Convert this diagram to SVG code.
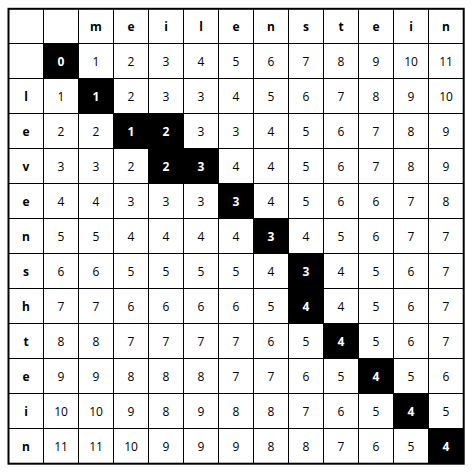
<svg xmlns="http://www.w3.org/2000/svg" width="472" height="473" viewBox="0 0 472 473">
<style>
.t{font-family:"Open Sans","Liberation Sans",sans-serif;font-size:12px;text-anchor:middle;fill:#000}
.b{font-weight:bold}
.w{fill:#fff;font-weight:bold}
.g{stroke:#000;stroke-width:1;fill:none}
</style>
<rect x="0" y="0" width="472" height="473" fill="#fff"/>
<g id="black-cells" fill="#000">
<rect x="43.5" y="43.5" width="35" height="35"/>
<rect x="78.5" y="78.5" width="35" height="35"/>
<rect x="113.5" y="113.5" width="35" height="35"/>
<rect x="148.5" y="113.5" width="35" height="35"/>
<rect x="148.5" y="148.5" width="35" height="35"/>
<rect x="183.5" y="148.5" width="35" height="35"/>
<rect x="218.5" y="183.5" width="35" height="35"/>
<rect x="253.5" y="218.5" width="35" height="35"/>
<rect x="288.5" y="253.5" width="35" height="35"/>
<rect x="288.5" y="288.5" width="35" height="35"/>
<rect x="323.5" y="323.5" width="35" height="35"/>
<rect x="358.5" y="358.5" width="35" height="35"/>
<rect x="393.5" y="393.5" width="35" height="35"/>
<rect x="428.5" y="428.5" width="35" height="35"/>
</g>
<g id="grid" class="g">
<path d="M43.5 8.5V463.5M78.5 8.5V463.5M113.5 8.5V463.5M148.5 8.5V463.5M183.5 8.5V463.5M218.5 8.5V463.5M253.5 8.5V463.5M288.5 8.5V463.5M323.5 8.5V463.5M358.5 8.5V463.5M393.5 8.5V463.5M428.5 8.5V463.5"/>
<path d="M8.5 43.5H463.5M8.5 78.5H463.5M8.5 113.5H463.5M8.5 148.5H463.5M8.5 183.5H463.5M8.5 218.5H463.5M8.5 253.5H463.5M8.5 288.5H463.5M8.5 323.5H463.5M8.5 358.5H463.5M8.5 393.5H463.5M8.5 428.5H463.5"/>
<rect x="8.5" y="8.8" width="455.2" height="454.9" stroke-width="2"/>
</g>
<g id="header" class="t b">
<text x="96" y="31">m</text><text x="131" y="31">e</text><text x="166" y="31">i</text><text x="201" y="31">l</text><text x="236" y="31">e</text><text x="271" y="31">n</text><text x="306" y="31">s</text><text x="341" y="31">t</text><text x="376" y="31">e</text><text x="411" y="31">i</text><text x="446" y="31">n</text>
</g>
<g id="row-labels" class="t b">
<text x="26" y="101">l</text><text x="26" y="136">e</text><text x="26" y="171">v</text><text x="26" y="206">e</text><text x="26" y="241">n</text><text x="26" y="276">s</text><text x="26" y="311">h</text><text x="26" y="346">t</text><text x="26" y="381">e</text><text x="26" y="416">i</text><text x="26" y="451">n</text>
</g>
<g id="values" class="t">
<text x="61" y="66" class="t w">0</text><text x="96" y="66">1</text><text x="131" y="66">2</text><text x="166" y="66">3</text><text x="201" y="66">4</text><text x="236" y="66">5</text><text x="271" y="66">6</text><text x="306" y="66">7</text><text x="341" y="66">8</text><text x="376" y="66">9</text><text x="411" y="66">10</text><text x="446" y="66">11</text>
<text x="61" y="101">1</text><text x="96" y="101" class="t w">1</text><text x="131" y="101">2</text><text x="166" y="101">3</text><text x="201" y="101">3</text><text x="236" y="101">4</text><text x="271" y="101">5</text><text x="306" y="101">6</text><text x="341" y="101">7</text><text x="376" y="101">8</text><text x="411" y="101">9</text><text x="446" y="101">10</text>
<text x="61" y="136">2</text><text x="96" y="136">2</text><text x="131" y="136" class="t w">1</text><text x="166" y="136" class="t w">2</text><text x="201" y="136">3</text><text x="236" y="136">3</text><text x="271" y="136">4</text><text x="306" y="136">5</text><text x="341" y="136">6</text><text x="376" y="136">7</text><text x="411" y="136">8</text><text x="446" y="136">9</text>
<text x="61" y="171">3</text><text x="96" y="171">3</text><text x="131" y="171">2</text><text x="166" y="171" class="t w">2</text><text x="201" y="171" class="t w">3</text><text x="236" y="171">4</text><text x="271" y="171">4</text><text x="306" y="171">5</text><text x="341" y="171">6</text><text x="376" y="171">7</text><text x="411" y="171">8</text><text x="446" y="171">9</text>
<text x="61" y="206">4</text><text x="96" y="206">4</text><text x="131" y="206">3</text><text x="166" y="206">3</text><text x="201" y="206">3</text><text x="236" y="206" class="t w">3</text><text x="271" y="206">4</text><text x="306" y="206">5</text><text x="341" y="206">6</text><text x="376" y="206">6</text><text x="411" y="206">7</text><text x="446" y="206">8</text>
<text x="61" y="241">5</text><text x="96" y="241">5</text><text x="131" y="241">4</text><text x="166" y="241">4</text><text x="201" y="241">4</text><text x="236" y="241">4</text><text x="271" y="241" class="t w">3</text><text x="306" y="241">4</text><text x="341" y="241">5</text><text x="376" y="241">6</text><text x="411" y="241">7</text><text x="446" y="241">7</text>
<text x="61" y="276">6</text><text x="96" y="276">6</text><text x="131" y="276">5</text><text x="166" y="276">5</text><text x="201" y="276">5</text><text x="236" y="276">5</text><text x="271" y="276">4</text><text x="306" y="276" class="t w">3</text><text x="341" y="276">4</text><text x="376" y="276">5</text><text x="411" y="276">6</text><text x="446" y="276">7</text>
<text x="61" y="311">7</text><text x="96" y="311">7</text><text x="131" y="311">6</text><text x="166" y="311">6</text><text x="201" y="311">6</text><text x="236" y="311">6</text><text x="271" y="311">5</text><text x="306" y="311" class="t w">4</text><text x="341" y="311">4</text><text x="376" y="311">5</text><text x="411" y="311">6</text><text x="446" y="311">7</text>
<text x="61" y="346">8</text><text x="96" y="346">8</text><text x="131" y="346">7</text><text x="166" y="346">7</text><text x="201" y="346">7</text><text x="236" y="346">7</text><text x="271" y="346">6</text><text x="306" y="346">5</text><text x="341" y="346" class="t w">4</text><text x="376" y="346">5</text><text x="411" y="346">6</text><text x="446" y="346">7</text>
<text x="61" y="381">9</text><text x="96" y="381">9</text><text x="131" y="381">8</text><text x="166" y="381">8</text><text x="201" y="381">8</text><text x="236" y="381">7</text><text x="271" y="381">7</text><text x="306" y="381">6</text><text x="341" y="381">5</text><text x="376" y="381" class="t w">4</text><text x="411" y="381">5</text><text x="446" y="381">6</text>
<text x="61" y="416">10</text><text x="96" y="416">10</text><text x="131" y="416">9</text><text x="166" y="416">8</text><text x="201" y="416">9</text><text x="236" y="416">8</text><text x="271" y="416">8</text><text x="306" y="416">7</text><text x="341" y="416">6</text><text x="376" y="416">5</text><text x="411" y="416" class="t w">4</text><text x="446" y="416">5</text>
<text x="61" y="451">11</text><text x="96" y="451">11</text><text x="131" y="451">10</text><text x="166" y="451">9</text><text x="201" y="451">9</text><text x="236" y="451">9</text><text x="271" y="451">8</text><text x="306" y="451">8</text><text x="341" y="451">7</text><text x="376" y="451">6</text><text x="411" y="451">5</text><text x="446" y="451" class="t w">4</text>
</g>
</svg>
